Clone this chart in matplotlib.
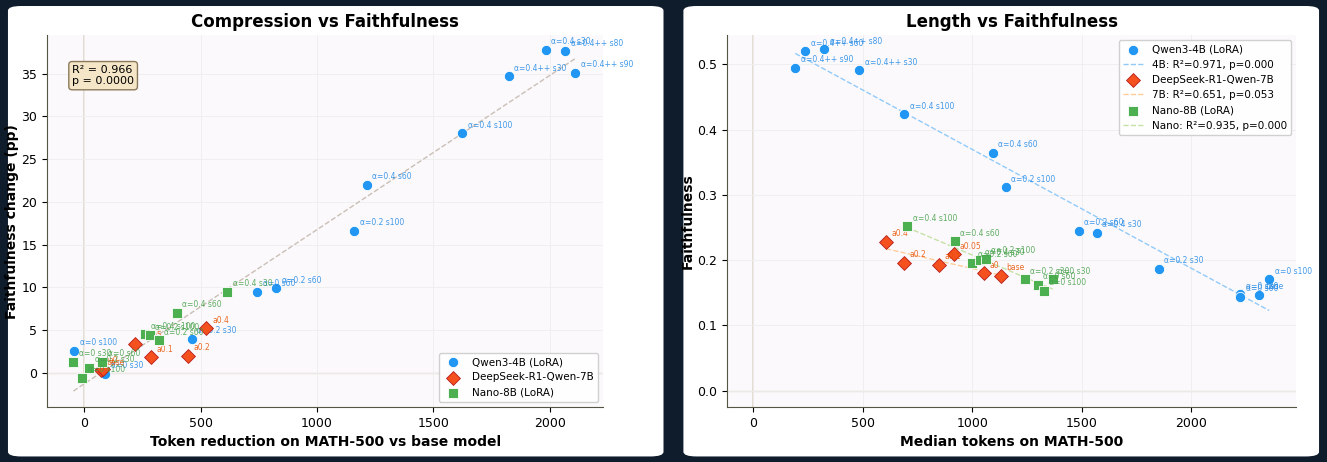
import numpy as np
import matplotlib
matplotlib.use('Agg')
import matplotlib.pyplot as plt
from matplotlib.patches import FancyBboxPatch

# left panel: token reduction vs faithfulness change
q_red = [-43, 90, 461, 744, 825, 1159, 1214, 1624, 1825, 1983, 2068, 2111]
q_dfa = [2.6, -0.1, 4.0, 9.5, 9.9, 16.6, 22.0, 28.0, 34.7, 37.8, 37.6, 35.1]
q_lab_l = ['α=0 s100', 'α=0 s30', 'α=0.2 s30', 'α=0 s60', 'α=0.2 s60', 'α=0.2 s100',
           'α=0.4 s60', 'α=0.4 s100', 'α=0.4++ s30', 'α=0.4 s30', 'α=0.4++ s80', 'α=0.4++ s90']
d_red = [70, 81, 218, 286, 444, 525]
d_dfa = [0.3, 0.5, 3.4, 1.8, 2.0, 5.2]
d_lab_l = ['base', 'a0', 'a0.05', 'a0.1', 'a0.2', 'a0.4']
n_red = [-47, -9, 21, 77, 261, 282, 320, 397, 615]
n_dfa = [1.3, -0.6, 0.6, 1.3, 4.5, 4.4, 3.8, 7.0, 9.5]
n_lab_l = ['α=0 s30', 'α=0 s100', 'α=0.2 s30', 'α=0 s60', 'α=0.4 s100', 'α=0.2 s100',
           'α=0.2 s60', 'α=0.4 s60', 'α=0.4 s30']

# right panel: median tokens vs faithfulness
q_tok = [191, 237, 323, 483, 688, 1093, 1153, 1485, 1567, 1850, 2223, 2223, 2310, 2355]
q_fa = [0.495, 0.520, 0.523, 0.491, 0.424, 0.365, 0.312, 0.245, 0.242, 0.187, 0.148, 0.144, 0.147, 0.171]
q_lab_r = ['α=0.4++ s90', 'α=0.4++ s60', 'α=0.4++ s80', 'α=0.4++ s30', 'α=0.4 s100', 'α=0.4 s60',
           'α=0.2 s100', 'α=0.2 s60', 'α=0.4 s30', 'α=0.2 s30', 'α=0 s30', 'α=0 s60', 'base', 'α=0 s100']
d_tok = [606, 688, 847, 916, 1052, 1130]
d_fa = [0.228, 0.196, 0.193, 0.209, 0.180, 0.176]
d_lab_r = ['a0.4', 'a0.2', 'a0.1', 'a0.05', 'a0', 'base']
n_tok = [701, 920, 998, 1034, 1061, 1239, 1298, 1326, 1367]
n_fa = [0.252, 0.229, 0.196, 0.200, 0.202, 0.171, 0.162, 0.153, 0.171]
n_lab_r = ['α=0.4 s100', 'α=0.4 s60', 'α=0.2 s60', 'α=0.4 s30', 'α=0.2 s100', 'α=0.2 s30',
           'α=0 s60', 'α=0 s100', 'α=0 s30']

BLUE, RED, GREEN = '#2196f3', '#f4511e', '#4caf50'
LBLUE, LRED, LGREEN = '#1e88e5', '#e65100', '#43a047'
EDGES = {'o': 'white', 'D': '#b71c1c', 's': 'white'}

fig = plt.figure(figsize=(13.27, 4.62), dpi=100, facecolor='#0f1c2c')
for x0, w in [(0.006, 0.494), (0.515, 0.479)]:
    fig.patches.append(FancyBboxPatch((x0, 0.012), w, 0.975, boxstyle='round,pad=0,rounding_size=0.01',
                                      transform=fig.transFigure, facecolor='white', edgecolor='none', zorder=-1))
ax1 = fig.add_axes([0.0355, 0.119, 0.419, 0.805])
ax2 = fig.add_axes([0.548, 0.119, 0.429, 0.805])


def scatter_set(ax, xs, ys, labs, color, lcolor, marker, size, name):
    ax.scatter(xs, ys, c=color, marker=marker, s=size, edgecolors=EDGES[marker], linewidths=0.6, zorder=3, label=name)
    for x, y, t in zip(xs, ys, labs):
        ax.annotate(t, (x, y), xytext=(4, 4), textcoords='offset points', fontsize=5.5, color=lcolor, alpha=0.85)


for ax in (ax1, ax2):
    ax.set_facecolor('#fcf9fc')
    ax.grid(True, color='#eeeeee', linewidth=0.6)
    ax.spines['top'].set_visible(False)
    ax.spines['right'].set_visible(False)
    ax.spines['left'].set_color('#555544')
    ax.spines['bottom'].set_color('#555544')
    ax.axvline(0, color='#e0d8cc', linewidth=1.2, zorder=1)
    ax.axhline(0, color='#e0d8cc', linewidth=1.0, zorder=1)
    ax.tick_params(labelsize=9)

# left
allx = np.array(q_red + d_red + n_red)
ally = np.array(q_dfa + d_dfa + n_dfa)
k, b = np.polyfit(allx, ally, 1)
xx = np.linspace(allx.min(), allx.max(), 50)
ax1.plot(xx, k * xx + b, '--', color='#c9bfb5', linewidth=1, zorder=2)
scatter_set(ax1, q_red, q_dfa, q_lab_l, BLUE, LBLUE, 'o', 55, 'Qwen3-4B (LoRA)')
scatter_set(ax1, d_red, d_dfa, d_lab_l, RED, LRED, 'D', 50, 'DeepSeek-R1-Qwen-7B')
scatter_set(ax1, n_red, n_dfa, n_lab_l, GREEN, LGREEN, 's', 50, 'Nano-8B (LoRA)')
ax1.set_xlim(-160, 2230)
ax1.set_ylim(-4, 39.5)
ax1.set_xticks([0, 500, 1000, 1500, 2000])
ax1.set_yticks([0, 5, 10, 15, 20, 25, 30, 35])
ax1.set_xlabel('Token reduction on MATH-500 vs base model', fontsize=10, fontweight='bold')
ax1.set_ylabel('Faithfulness change (pp)', fontsize=10, fontweight='bold', labelpad=2)
ax1.set_title('Compression vs Faithfulness', fontsize=12, fontweight='bold')
ax1.text(0.045, 0.92, 'R² = 0.966\np = 0.0000', transform=ax1.transAxes, fontsize=8, va='top',
         bbox=dict(boxstyle='round,pad=0.3', facecolor='#f5e6c8', edgecolor='#8a7a5a'))
ax1.legend(loc='lower right', fontsize=7.5, framealpha=0.9)

# right
scatter_set(ax2, q_tok, q_fa, q_lab_r, BLUE, LBLUE, 'o', 55, 'Qwen3-4B (LoRA)')
k, b = np.polyfit(q_tok, q_fa, 1)
xx = np.array([min(q_tok), max(q_tok)])
ax2.plot(xx, k * xx + b, '--', color='#90caf9', linewidth=1, label='4B: R²=0.971, p=0.000', zorder=2)
scatter_set(ax2, d_tok, d_fa, d_lab_r, RED, LRED, 'D', 50, 'DeepSeek-R1-Qwen-7B')
k, b = np.polyfit(d_tok, d_fa, 1)
xx = np.array([min(d_tok), max(d_tok)])
ax2.plot(xx, k * xx + b, '--', color='#ffcc99', linewidth=1, label='7B: R²=0.651, p=0.053', zorder=2)
scatter_set(ax2, n_tok, n_fa, n_lab_r, GREEN, LGREEN, 's', 50, 'Nano-8B (LoRA)')
k, b = np.polyfit(n_tok, n_fa, 1)
xx = np.array([min(n_tok), max(n_tok)])
ax2.plot(xx, k * xx + b, '--', color='#c5e1a5', linewidth=1, label='Nano: R²=0.935, p=0.000', zorder=2)
ax2.set_xlim(-120, 2480)
ax2.set_ylim(-0.025, 0.545)
ax2.set_xticks([0, 500, 1000, 1500, 2000])
ax2.set_yticks([0.0, 0.1, 0.2, 0.3, 0.4, 0.5])
ax2.set_xlabel('Median tokens on MATH-500', fontsize=10, fontweight='bold')
ax2.set_ylabel('Faithfulness', fontsize=10, fontweight='bold', labelpad=2)
ax2.set_title('Length vs Faithfulness', fontsize=12, fontweight='bold')
ax2.legend(loc='upper right', fontsize=7.5, framealpha=0.9)

fig.savefig('out.png', dpi=100, facecolor=fig.get_facecolor())
